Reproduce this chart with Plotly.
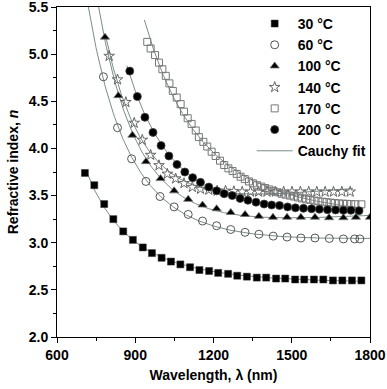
import numpy as np
import plotly.graph_objects as go

# ---------------- data ----------------
wl_30 = [707, 743, 781, 816, 854, 891, 929, 964, 1001, 1037, 1073, 1110, 1146, 1183, 1218,
         1256, 1291, 1328, 1366, 1402, 1440, 1475, 1513, 1548, 1585, 1621, 1658, 1694, 1731, 1767]
n_30 = [3.74, 3.61, 3.41, 3.25, 3.12, 3.03, 2.95, 2.89, 2.84, 2.80, 2.77, 2.74, 2.71, 2.70, 2.68,
        2.67, 2.65, 2.64, 2.63, 2.63, 2.62, 2.62, 2.61, 2.61, 2.61, 2.61, 2.60, 2.60, 2.60, 2.60]

wl_60 = [778, 832, 886, 941, 995, 1049, 1103, 1158, 1212, 1266, 1321, 1374, 1429, 1482, 1535,
         1589, 1644, 1698, 1741, 1761]
n_60 = [4.76, 4.22, 3.89, 3.65, 3.49, 3.38, 3.30, 3.23, 3.18, 3.14, 3.11, 3.09, 3.07, 3.06, 3.05,
        3.05, 3.045, 3.04, 3.04, 3.04]

wl_100 = [784, 835, 889, 941, 997, 1049, 1103, 1158, 1212, 1266, 1321, 1374, 1428, 1482, 1535,
          1589, 1643, 1698, 1746, 1800]
n_100 = [5.18, 4.56, 4.14, 3.86, 3.68, 3.55, 3.46, 3.40, 3.36, 3.32, 3.30, 3.28, 3.27, 3.27, 3.27,
         3.27, 3.265, 3.265, 3.27, 3.27]

wl_140 = [800, 832, 864, 896, 927, 959, 991, 1023, 1055, 1087, 1119, 1150, 1182, 1214, 1246,
          1278, 1310, 1342, 1373, 1405, 1437, 1469, 1501, 1533, 1565, 1596, 1628, 1660, 1692, 1724]
n_140 = [4.98, 4.73, 4.49, 4.27, 4.09, 3.93, 3.82, 3.73, 3.68, 3.63, 3.59, 3.57, 3.56, 3.55, 3.55,
         3.545, 3.54, 3.54, 3.54, 3.54, 3.54, 3.54, 3.54, 3.54, 3.54, 3.54, 3.54, 3.54, 3.54, 3.54]

wl_170 = [946, 959, 976, 991, 1004, 1017, 1031, 1044, 1059, 1074, 1087, 1101, 1116, 1132, 1144,
          1161, 1176, 1193, 1208, 1225, 1241, 1257, 1273, 1289, 1304, 1320, 1336, 1351, 1367, 1383,
          1398, 1414, 1430, 1446, 1461, 1477, 1493, 1508, 1524, 1540, 1555, 1571, 1587, 1602, 1618,
          1634, 1650, 1665, 1681, 1697, 1712, 1728, 1744, 1767]
n_170 = [5.13, 5.06, 4.99, 4.91, 4.84, 4.77, 4.69, 4.61, 4.54, 4.47, 4.39, 4.32, 4.26, 4.19, 4.12,
         4.07, 4.02, 3.965, 3.92, 3.87, 3.824, 3.789, 3.76, 3.73, 3.70, 3.675, 3.65, 3.63, 3.61, 3.595,
         3.58, 3.565, 3.55, 3.535, 3.52, 3.51, 3.50, 3.49, 3.48, 3.47, 3.46, 3.455, 3.447, 3.44, 3.435,
         3.43, 3.425, 3.42, 3.417, 3.414, 3.412, 3.41, 3.408, 3.407]

wl_200 = [879, 908, 937, 968, 999, 1029, 1060, 1090, 1120, 1150, 1182, 1212, 1241, 1272, 1302,
          1332, 1363, 1394, 1423, 1453, 1484, 1514, 1545, 1576, 1606, 1637, 1668, 1698, 1727, 1758]
n_200 = [4.82, 4.55, 4.33, 4.17, 4.03, 3.92, 3.83, 3.75, 3.69, 3.64, 3.59, 3.55, 3.52, 3.50, 3.47,
         3.45, 3.43, 3.41, 3.40, 3.395, 3.38, 3.37, 3.365, 3.36, 3.355, 3.35, 3.347, 3.344, 3.344, 3.34]

labels = ["30 °C", "60 °C", "100 °C", "140 °C", "170 °C", "200 °C"]
# wavelength span covered by each Cauchy fit curve (nm)
fit_span = [(712, 1775), (686, 1800), (758, 1800), (785, 1735), (935, 1775), (868, 1770)]

x_ticks = [600, 900, 1200, 1500, 1800]
y_ticks = [2.0, 2.5, 3.0, 3.5, 4.0, 4.5, 5.0, 5.5]

# ---------------- styles ----------------
series = [(wl_30, n_30), (wl_60, n_60), (wl_100, n_100),
          (wl_140, n_140), (wl_170, n_170), (wl_200, n_200)]
markers = [
    dict(symbol="square", size=7, color="black", line=dict(color="#333", width=0.5)),
    dict(symbol="circle-open", size=8, color="#555", line=dict(color="#555", width=1)),
    dict(symbol="triangle-up", size=8, color="black", line=dict(color="#777", width=0.8)),
    dict(symbol="star-open", size=8, color="#666", line=dict(color="#666", width=1)),
    dict(symbol="square-open", size=7, color="#777", line=dict(color="#777", width=1)),
    dict(symbol="circle", size=8, color="black", line=dict(color="#444", width=0.8)),
]
fit_color = "#7a8c8c"
FONT = "Arial, Liberation Sans, sans-serif"

fig = go.Figure()


def cauchy_fit(wl, n):
    lam = np.asarray(wl, float) / 1000.0
    A = np.column_stack([np.ones_like(lam), lam ** -2, lam ** -4])
    coef, *_ = np.linalg.lstsq(A, np.asarray(n, float), rcond=None)
    return coef


for i, (wl, n) in enumerate(series):
    c = cauchy_fit(wl, n)
    lo, hi = fit_span[i]
    lx = np.linspace(lo, hi, 300)
    lam = lx / 1000.0
    ly = c[0] + c[1] * lam ** -2 + c[2] * lam ** -4
    fig.add_trace(go.Scatter(
        x=lx, y=ly, mode="lines", line=dict(color=fit_color, width=1),
        name="Cauchy fit", showlegend=(i == 0), legendrank=100, legendgroup="fit",
        hoverinfo="skip"))

for i, (wl, n) in enumerate(series):
    fig.add_trace(go.Scatter(
        x=wl, y=n, mode="markers", marker=markers[i], name=labels[i],
        legendrank=i + 1, legendgroup=f"g{i}"))

fig.update_layout(
    width=387, height=389,
    margin=dict(l=57, r=17, t=7, b=52, autoexpand=False),
    paper_bgcolor="white", plot_bgcolor="white",
    font=dict(family=FONT, size=14, color="black", weight="bold"),
    showlegend=True,
    legend=dict(x=0.622, y=0.997, xanchor="left", yanchor="top",
                bgcolor="rgba(0,0,0,0)", font=dict(family=FONT, size=14, weight="bold"),
                tracegroupgap=0.4, itemwidth=36, traceorder="normal"),
)
fig.update_xaxes(
    range=[600, 1800], tickvals=x_ticks, ticktext=[str(v) for v in x_ticks],
    ticks="outside", ticklen=5, tickwidth=1, tickcolor="black",
    showline=True, linecolor="black", linewidth=1, mirror=True, showgrid=False,
    zeroline=False, automargin=False, ticklabeloverflow="allow",
    minor=dict(tickvals=[750, 1050, 1350, 1650], ticks="outside", ticklen=3, tickcolor="black"),
    tickfont=dict(family=FONT, size=14, weight="bold"),
    title=dict(text="Wavelength, λ (nm)", font=dict(family=FONT, size=14, weight="bold"), standoff=8),
)
fig.update_yaxes(
    range=[2.0, 5.5], tickvals=y_ticks, ticktext=[f"{v:.1f}" for v in y_ticks],
    ticks="outside", ticklen=5, tickwidth=1, tickcolor="black",
    showline=True, linecolor="black", linewidth=1, mirror=True, showgrid=False,
    zeroline=False, automargin=False, ticklabeloverflow="allow",
    minor=dict(tickvals=[2.25, 2.75, 3.25, 3.75, 4.25, 4.75, 5.25], ticks="outside",
               ticklen=3, tickcolor="black"),
    tickfont=dict(family=FONT, size=14, weight="bold"),
    title=dict(text="Refractive index, <i>n</i>", font=dict(family=FONT, size=14, weight="bold"),
               standoff=6),
)

fig.write_html("out.html", config={"displayModeBar": False},
               post_script="document.body.style.margin='0px';document.body.style.overflow='hidden';")
